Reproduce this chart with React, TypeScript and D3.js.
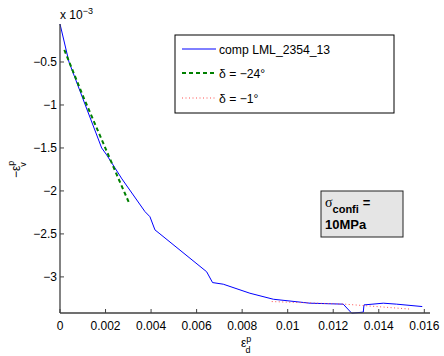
import React from "react";
import * as d3 from "d3";

const compX = [0, 0.000395, 0.00111, 0.00183, 0.00205, 0.00272, 0.00373, 0.00395, 0.00417, 0.00439, 0.00644, 0.0067, 0.00717, 0.00834, 0.00937, 0.01098, 0.01244, 0.01281, 0.01332, 0.01335, 0.0142, 0.01478, 0.01591];
const compY = [-0.058, -0.5, -1.0, -1.5, -1.581, -1.86, -2.24, -2.3, -2.453, -2.5, -2.94, -3.066, -3.085, -3.19, -3.26, -3.306, -3.317, -3.422, -3.41, -3.326, -3.306, -3.317, -3.345];
const d24X = [0.00019, 0.00105, 0.0019, 0.00256, 0.00304];
const d24Y = [-0.36, -0.922, -1.445, -1.852, -2.143];
const d1X = [0.0093, 0.0125, 0.0154];
const d1Y = [-3.287, -3.317, -3.375];
const xTicks = [0, 0.002, 0.004, 0.006, 0.008, 0.01, 0.012, 0.014, 0.016];
const xTickLabels = ["0", "0.002", "0.004", "0.006", "0.008", "0.01", "0.012", "0.014", "0.016"];
const yTicks = [-0.5, -1, -1.5, -2, -2.5, -3];
const yTickLabels = ["\u22120.5", "\u22121", "\u22121.5", "\u22122", "\u22122.5", "\u22123"];
const legendLabels = ["comp LML_2354_13", "\u03b4 = \u221224\u00b0", "\u03b4 = \u22121\u00b0"];

const W = 444, H = 356;
const L = 60, R = 430, T = 24, B = 313;

export default function App() {
  const x = d3.scaleLinear().domain([0, 0.01625]).range([L, R]);
  const y = d3.scaleLinear().domain([-3.42, -0.058]).range([B, T]);
  const line = d3.line<[number, number]>().x(d => x(d[0])).y(d => y(d[1]));
  const zip = (a: number[], b: number[]) => a.map((v, i) => [v, b[i]] as [number, number]);
  const font = "'Liberation Sans', Arial, Helvetica, sans-serif";
  const axisColor = "#404040";
  return (
    <svg width={W} height={H} style={{ position: "absolute", left: 0, top: 0, background: "#fff" }} fontFamily={font}>
      <rect x={0} y={0} width={W} height={H} fill="#fff" />
      {/* data */}
      <path d={line(zip(compX, compY)) || ""} fill="none" stroke="#0000ff" strokeWidth={1} />
      <path d={line(zip(d24X, d24Y)) || ""} fill="none" stroke="#008000" strokeWidth={2} strokeDasharray="4,3" />
      <path d={line(zip(d1X, d1Y)) || ""} fill="none" stroke="#ff5050" strokeWidth={1} strokeDasharray="1,2.5" />
      {/* axes */}
      <line x1={L} x2={L} y1={T} y2={B} stroke={axisColor} strokeWidth={1.3} />
      <line x1={L} x2={R} y1={B} y2={B} stroke={axisColor} strokeWidth={1.3} />
      {xTicks.map((t, i) => (
        <g key={"x" + i}>
          <line x1={x(t)} x2={x(t)} y1={B} y2={B - 4} stroke={axisColor} strokeWidth={1} />
          <text x={x(t)} y={B + 17} fontSize={12} textAnchor="middle" fill="#000">{xTickLabels[i]}</text>
        </g>
      ))}
      {yTicks.map((t, i) => (
        <g key={"y" + i}>
          <line x1={L} x2={L + 4} y1={y(t)} y2={y(t)} stroke={axisColor} strokeWidth={1} />
          <text x={L - 3} y={y(t) + 4} fontSize={12} textAnchor="end" fill="#000">{yTickLabels[i]}</text>
        </g>
      ))}
      <text x={60} y={19} fontSize={12} fill="#000">x 10<tspan dy={-5} fontSize={9}>−3</tspan></text>
      {/* axis labels */}
      <text x={241} y={347} fontSize={12} fill="#000">ε<tspan dy={-5} fontSize={9}>p</tspan><tspan dx={-6} dy={11} fontSize={9}>d</tspan></text>
      <g transform="translate(20,168) rotate(-90)">
        <text x={-10} y={0} fontSize={12} fill="#000">−ε<tspan dy={-6} fontSize={9}>p</tspan><tspan dx={-6} dy={12} fontSize={9}>v</tspan></text>
      </g>
      {/* legend */}
      <rect x={175} y={35} width={219} height={78} fill="#fff" stroke="#000" strokeWidth={1} />
      <line x1={182} x2={216} y1={49} y2={49} stroke="#0000ff" strokeWidth={1} />
      <line x1={182} x2={216} y1={73} y2={73} stroke="#008000" strokeWidth={2} strokeDasharray="4,3" />
      <line x1={182} x2={216} y1={98} y2={98} stroke="#ff5050" strokeWidth={1} strokeDasharray="1,2.5" />
      {legendLabels.map((s, i) => (
        <text key={"l" + i} x={219} y={[49, 73, 98][i] + 5} fontSize={12.2} fill="#000">{s}</text>
      ))}
      {/* annotation */}
      <rect x={321} y={191} width={82} height={46} fill="#e5e5e5" stroke="#222" strokeWidth={1} />
      <text x={325} y={207} fontSize={13} fill="#000"><tspan fontFamily="'Liberation Serif', serif" fontSize={14}>σ</tspan><tspan dy={6} fontSize={11} fontWeight="bold">confi</tspan><tspan dx={4} dy={-6} fontWeight="bold">=</tspan></text>
      <text x={325} y={229} fontSize={13} fontWeight="bold" fill="#000">10MPa</text>
    </svg>
  );
}
